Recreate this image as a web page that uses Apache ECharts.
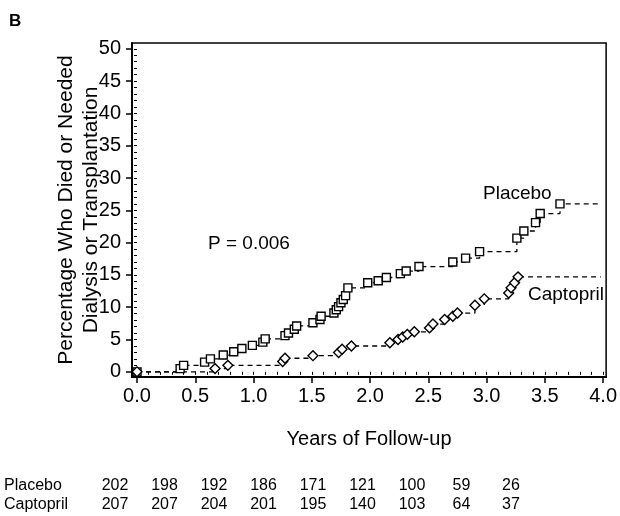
<!DOCTYPE html>
<html>
<head>
<meta charset="utf-8">
<title>Captopril vs Placebo</title>
<script src="https://cdn.jsdelivr.net/npm/echarts@6.0.0/dist/echarts.min.js"></script>
<style>
  html, body { margin: 0; padding: 0; background: #fff; }
  #chart { width: 620px; height: 516px; }
</style>
</head>
<body>
<div id="chart"></div>
<script>
// event times (years) and cumulative percentage
const placeboYears = [0, 0.37, 0.40, 0.58, 0.63, 0.74, 0.83, 0.90, 0.99, 1.08,
  1.10, 1.27, 1.30, 1.35, 1.37, 1.51, 1.57, 1.58, 1.69, 1.71,
  1.73, 1.75, 1.77, 1.79, 1.81, 1.98, 2.07, 2.14, 2.26, 2.31,
  2.42, 2.71, 2.82, 2.94, 3.26, 3.32, 3.42, 3.46, 3.63]
const placeboPct = [0, 0.5, 1.0, 1.5, 2.0, 2.6, 3.1, 3.6, 4.1, 4.6,
  5.1, 5.6, 6.0, 6.6, 7.1, 7.6, 8.1, 8.6, 9.1, 9.6,
  10.1, 10.7, 11.2, 11.8, 13.0, 13.8, 14.1, 14.6, 15.2, 15.6,
  16.3, 17.0, 17.6, 18.6, 20.7, 21.8, 23.1, 24.5, 26.0]
const placeboEnd = 3.98

const captoprilYears = [0, 0.67, 0.78, 1.25, 1.27, 1.51, 1.73, 1.76, 1.84, 2.17,
  2.24, 2.28, 2.32, 2.38, 2.51, 2.54, 2.64, 2.71, 2.75, 2.90,
  2.98, 3.19, 3.21, 3.24, 3.27]
const captoprilPct = [0, 0.5, 1.0, 1.6, 2.1, 2.5, 3.0, 3.5, 4.0, 4.5,
  5.0, 5.4, 5.8, 6.2, 6.8, 7.4, 8.1, 8.6, 9.1, 10.3,
  11.3, 12.2, 13.0, 13.8, 14.7]
const captoprilEnd = 3.98

// number at risk table
const placeboAtRisk = [202, 198, 192, 186, 171, 121, 100, 59, 26]
const captoprilAtRisk = [207, 207, 204, 201, 195, 140, 103, 64, 37]

// tick labels
const xTicks = [0, 0.5, 1.0, 1.5, 2.0, 2.5, 3.0, 3.5, 4.0]
const yTicks = [0, 5, 10, 15, 20, 25, 30, 35, 40, 45, 50]

const xMinor = []
for (let i = 0; i <= 40; i++) xMinor.push(i / 10)
const yMinor = []
for (let i = 0; i <= 50; i++) yMinor.push(i)

const font = 'Liberation Sans, Arial, Helvetica, sans-serif'

function pairs(xs, ys) {
  return xs.map((x, i) => [x, ys[i]])
}
function stepLine(xs, ys, end) {
  let d = pairs(xs, ys)
  d.push([end, ys[ys.length - 1]])
  return d
}

const dashStyle = { color: '#000', width: 1.3, type: [5, 4] }

let graphics = [
  { type: 'text', left: 9, top: 13, style: { text: 'B', font: 'bold 17px ' + font, fill: '#000' } },
  { type: 'text', x: 208, y: 244, style: { text: 'P = 0.006', font: '19px ' + font, fill: '#000', verticalAlign: 'middle' } },
  { type: 'text', x: 483, y: 194, style: { text: 'Placebo', font: '19px ' + font, fill: '#000', verticalAlign: 'middle' } },
  { type: 'text', x: 528, y: 295, style: { text: 'Captopril', font: '19px ' + font, fill: '#000', verticalAlign: 'middle' } },
  { type: 'text', x: 4, y: 486, style: { text: 'Placebo', font: '16px ' + font, fill: '#000', verticalAlign: 'middle' } },
  { type: 'text', x: 4, y: 505, style: { text: 'Captopril', font: '16px ' + font, fill: '#000', verticalAlign: 'middle' } }
]
placeboAtRisk.forEach((n, i) => {
  graphics.push({ type: 'text', x: 115 + i * 49.5, y: 486,
    style: { text: String(n), font: '16px ' + font, fill: '#000', align: 'center', verticalAlign: 'middle' } })
})
captoprilAtRisk.forEach((n, i) => {
  graphics.push({ type: 'text', x: 115 + i * 49.5, y: 505,
    style: { text: String(n), font: '16px ' + font, fill: '#000', align: 'center', verticalAlign: 'middle' } })
})

let option = {
  backgroundColor: '#fff',
  animation: false,
  textStyle: { fontFamily: font, color: '#000' },
  grid: {
    left: 132, right: 10, top: 43, bottom: 139,
    show: true, borderColor: '#000', borderWidth: 1.5
  },
  xAxis: [{
    type: 'value',
    min: -0.043,
    max: 4.026,
    name: 'Years of Follow-up',
    nameLocation: 'middle',
    nameGap: 52,
    nameTextStyle: { fontSize: 20, color: '#000', fontFamily: font },
    axisLine: { onZero: false, lineStyle: { color: '#000', width: 2 } },
    axisTick: { customValues: xTicks, length: 6, lineStyle: { color: '#000', width: 1.5 } },
    axisLabel: {
      customValues: xTicks, fontSize: 20, color: '#000', margin: 9, fontFamily: font,
      formatter: v => v.toFixed(1)
    },
    splitLine: { show: false }
  }, {
    type: 'value',
    min: -0.043,
    max: 4.026,
    position: 'bottom',
    axisLine: { show: false },
    axisTick: { customValues: xMinor, length: 3, lineStyle: { color: '#000', width: 1 } },
    axisLabel: { show: false },
    splitLine: { show: false }
  }],
  yAxis: [{
    type: 'value',
    min: -0.8,
    max: 50.9,
    name: 'Percentage Who Died or Needed\nDialysis or Transplantation',
    nameLocation: 'middle',
    nameGap: 28,
    nameMoveOverlap: false,
    nameTextStyle: { fontSize: 21, lineHeight: 25, color: '#000', fontFamily: font },
    axisLine: { onZero: false, lineStyle: { color: '#000', width: 2 } },
    axisTick: { customValues: yTicks, length: 6, lineStyle: { color: '#000', width: 1.5 } },
    axisLabel: { customValues: yTicks, fontSize: 20, color: '#000', margin: 11, fontFamily: font },
    splitLine: { show: false }
  }, {
    type: 'value',
    min: -0.8,
    max: 50.9,
    position: 'left',
    axisLine: { show: false },
    axisTick: { customValues: yMinor, length: 3, lineStyle: { color: '#000', width: 1 } },
    axisLabel: { show: false },
    splitLine: { show: false }
  }],
  graphic: graphics,
  series: [{
    name: 'Placebo',
    type: 'line',
    step: 'end',
    symbol: 'none',
    lineStyle: dashStyle,
    data: stepLine(placeboYears, placeboPct, placeboEnd)
  }, {
    name: 'Captopril',
    type: 'line',
    step: 'end',
    symbol: 'none',
    lineStyle: dashStyle,
    data: stepLine(captoprilYears, captoprilPct, captoprilEnd)
  }, {
    name: 'Placebo events',
    type: 'scatter',
    symbol: 'rect',
    symbolSize: 8,
    itemStyle: { color: '#fff', borderColor: '#000', borderWidth: 1.4, opacity: 1 },
    data: pairs(placeboYears, placeboPct),
    z: 3
  }, {
    name: 'Captopril events',
    type: 'scatter',
    symbol: 'rect',
    symbolSize: 7,
    symbolRotate: 45,
    itemStyle: { color: '#fff', borderColor: '#000', borderWidth: 1.4, opacity: 1 },
    data: pairs(captoprilYears, captoprilPct),
    z: 3
  }]
}

let chart = echarts.init(document.getElementById('chart'))
chart.setOption(option)
</script>
</body>
</html>
